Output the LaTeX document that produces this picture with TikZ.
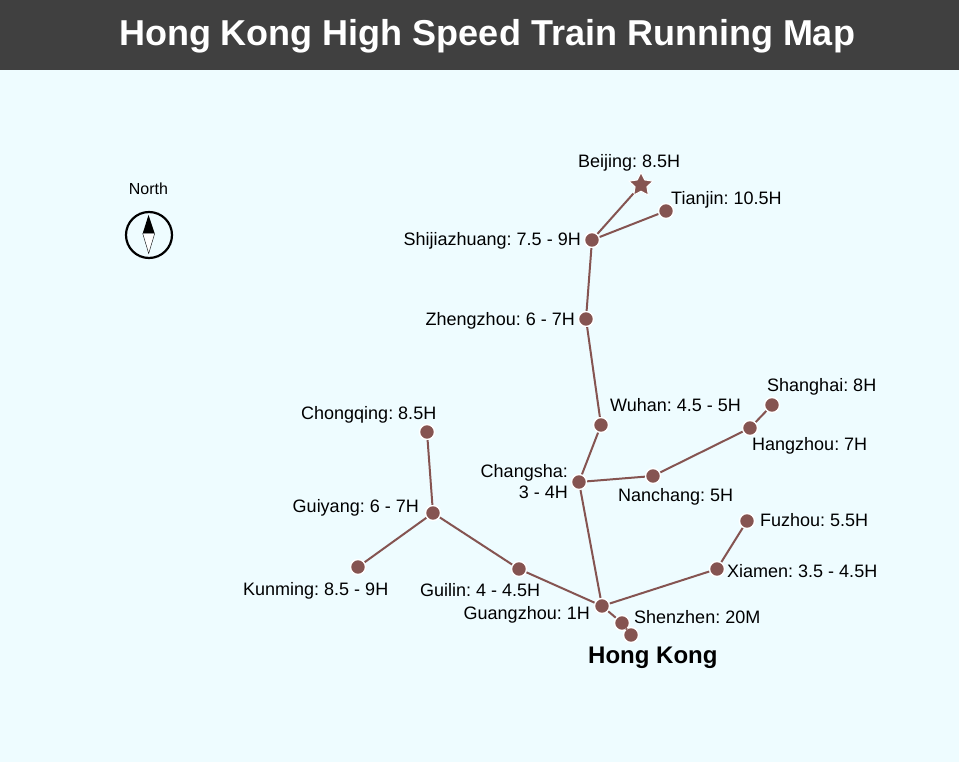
\documentclass[tikz,border=0pt]{standalone}
\usepackage{fontspec}
\setmainfont{Liberation Sans}
\usetikzlibrary{shapes.geometric}
\definecolor{trackcol}{RGB}{133,84,81}
\definecolor{seacol}{RGB}{238,252,255}
\definecolor{barcol}{RGB}{64,64,64}
\tikzset{
city/.style={circle, fill=trackcol, draw=white, line width=1.4pt, minimum size=15pt, inner sep=0pt},
capital/.style={star, star points=5, star point ratio=2, fill=trackcol, draw=white, line width=1pt, minimum size=25pt, inner sep=0pt},
track/.style={trackcol, line width=2pt},
lbl/.style={inner sep=0pt, font=\fontsize{18}{20}\selectfont\frenchspacing, text=black},
}
\begin{document}
\begin{tikzpicture}[x=1pt,y=-1pt]
\useasboundingbox (0,0) rectangle (959,762);
\fill[seacol] (0,0) rectangle (959,762);
\fill[barcol] (0,0) rectangle (959,70);
\node[anchor=base, text=white, inner sep=0pt, font=\fontsize{36}{40}\selectfont\bfseries\frenchspacing] (maptitle) at (487,46) {Hong Kong High Speed Train Running Map};
% compass
\node[circle, draw=black, line width=2.2pt, minimum size=46pt, inner sep=0pt] (compass) at (149,235) {};
\fill[black] (148.5,215) -- (142.7,233.5) -- (154.7,233.5) -- cycle;
\draw[black, fill=white, line width=.4pt] (142.7,233.5) -- (154.7,233.5) -- (148.7,253.5) -- cycle;
\node[lbl, anchor=base, font=\fontsize{16}{18}\selectfont] (north) at (148.5,195) {North};
% cities
\node[capital] (beijing) at (641,185) {};
\node[city] (tianjin) at (666,211) {};
\node[city] (shijiazhuang) at (592,240) {};
\node[city] (zhengzhou) at (586,319) {};
\node[city] (wuhan) at (601,425) {};
\node[city] (changsha) at (579,482) {};
\node[city] (nanchang) at (653,476) {};
\node[city] (hangzhou) at (750,428) {};
\node[city] (shanghai) at (772,405) {};
\node[city] (chongqing) at (427,432) {};
\node[city] (guiyang) at (433,513) {};
\node[city] (kunming) at (358,567) {};
\node[city] (guilin) at (519,569) {};
\node[city] (guangzhou) at (602,606) {};
\node[city] (xiamen) at (717,569) {};
\node[city] (fuzhou) at (747,521) {};
\node[city] (shenzhen) at (622,623) {};
\node[city] (hongkong) at (631,635) {};
% tracks
\draw[track] (beijing) -- (shijiazhuang);
\draw[track] (tianjin) -- (shijiazhuang);
\draw[track] (shijiazhuang) -- (zhengzhou);
\draw[track] (zhengzhou) -- (wuhan);
\draw[track] (wuhan) -- (changsha);
\draw[track] (changsha) -- (nanchang);
\draw[track] (nanchang) -- (hangzhou);
\draw[track] (hangzhou) -- (shanghai);
\draw[track] (changsha) -- (guangzhou);
\draw[track] (chongqing) -- (guiyang);
\draw[track] (guiyang) -- (kunming);
\draw[track] (guiyang) -- (guilin);
\draw[track] (guilin) -- (guangzhou);
\draw[track] (guangzhou) -- (xiamen);
\draw[track] (xiamen) -- (fuzhou);
\draw[track] (guangzhou) -- (shenzhen);
\draw[track] (shenzhen) -- (hongkong);
% labels
\node[lbl, anchor=base west] (beijinglbl) at (578,168) {Beijing: 8.5H};
\node[lbl, anchor=base west] (tianjinlbl) at (671,205) {Tianjin: 10.5H};
\node[lbl, anchor=base east] (shijiazhuanglbl) at (581,246) {Shijiazhuang: 7.5 - 9H};
\node[lbl, anchor=base east] (zhengzhoulbl) at (575,325) {Zhengzhou: 6 - 7H};
\node[lbl, anchor=base west] (wuhanlbl) at (610,411) {Wuhan: 4.5 - 5H};
\node[lbl, anchor=base west] (shanghailbl) at (767,391) {Shanghai: 8H};
\node[lbl, anchor=base west] (hangzhoulbl) at (752,450) {Hangzhou: 7H};
\node[lbl, anchor=base west] (nanchanglbl) at (618,501) {Nanchang: 5H};
\node[lbl, anchor=base east] (changshalbl) at (568,477) {Changsha:};
\node[lbl, anchor=base east] (changshatime) at (568,498) {3 - 4H};
\node[lbl, anchor=base west] (chongqinglbl) at (301,419) {Chongqing: 8.5H};
\node[lbl, anchor=base east] (guiyanglbl) at (419,512) {Guiyang: 6 - 7H};
\node[lbl, anchor=base west] (kunminglbl) at (243,595) {Kunming: 8.5 - 9H};
\node[lbl, anchor=base west] (guilinlbl) at (420,596) {Guilin: 4 - 4.5H};
\node[lbl, anchor=base east] (guangzhoulbl) at (590,619) {Guangzhou: 1H};
\node[lbl, anchor=base west] (shenzhenlbl) at (634,623) {Shenzhen: 20M};
\node[lbl, anchor=base west] (xiamenlbl) at (727,577) {Xiamen: 3.5 - 4.5H};
\node[lbl, anchor=base west] (fuzhoulbl) at (760,526) {Fuzhou: 5.5H};
\node[lbl, anchor=base west, font=\fontsize{24}{28}\selectfont\bfseries\frenchspacing] (hongkonglbl) at (588,663) {Hong Kong};
\end{tikzpicture}
\end{document}
